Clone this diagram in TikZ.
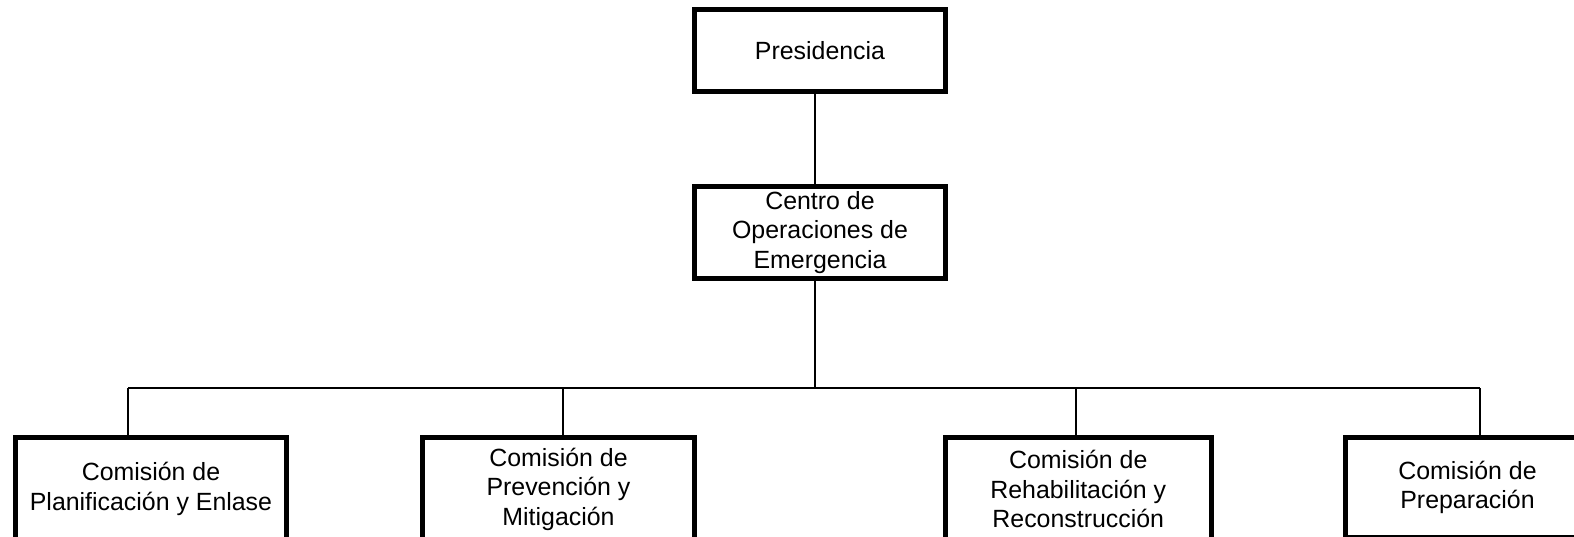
\documentclass[tikz,border=0pt]{standalone}
\usepackage{fontspec}
\setmainfont{Liberation Sans}

\begin{document}
\begin{tikzpicture}[x=0.5pt,y=-0.5pt,
	caja/.style={draw,line width=2.5pt,align=center,inner sep=0pt,font=\fontsize{12.45}{14.75}\selectfont},
	linea/.style={line width=0.75pt}]
	\clip (0,0) rectangle (1574,536);
	\node[caja,minimum width=125.5pt,minimum height=41pt] (pres) at (820,50.5) {Presidencia};
	\node[caja,minimum width=125.5pt,minimum height=46pt] (coe) at (820,232.5) {Centro de\\Operaciones de\\Emergencia};
	\node[caja,minimum width=135.5pt,minimum height=51.5pt] (com1) at (151,489) {Comisión de\\Planificación y Enlase};
	\node[caja,minimum width=136pt,minimum height=51.5pt] (com2) at (558.5,489) {Comisión de\\Prevención y\\Mitigación};
	\node[caja,minimum width=132.75pt,minimum height=51.5pt] (com3) at (1078.25,489) {Comisión de\\Rehabilitación y\\Reconstrucción};
	\node[caja,minimum width=122pt,minimum height=50pt] (com4) at (1467.5,487.5) {Comisión de\\Preparación};
	\coordinate (bus) at (815,388);
	\coordinate (b1) at (128,388);
	\coordinate (b2) at (563,388);
	\coordinate (b3) at (1076,388);
	\coordinate (b4) at (1480,388);
	\draw[linea] ([xshift=-2.5pt]pres.south) -- ([xshift=-2.5pt]coe.north);
	\draw[linea] ([xshift=-2.5pt]coe.south) -- (bus);
	\draw[linea] (b1) -- (b4);
	\foreach \i in {1,...,4}
	{
		\draw[linea] (b\i) -- (b\i |- com\i.north);
	}
\end{tikzpicture}
\end{document}
